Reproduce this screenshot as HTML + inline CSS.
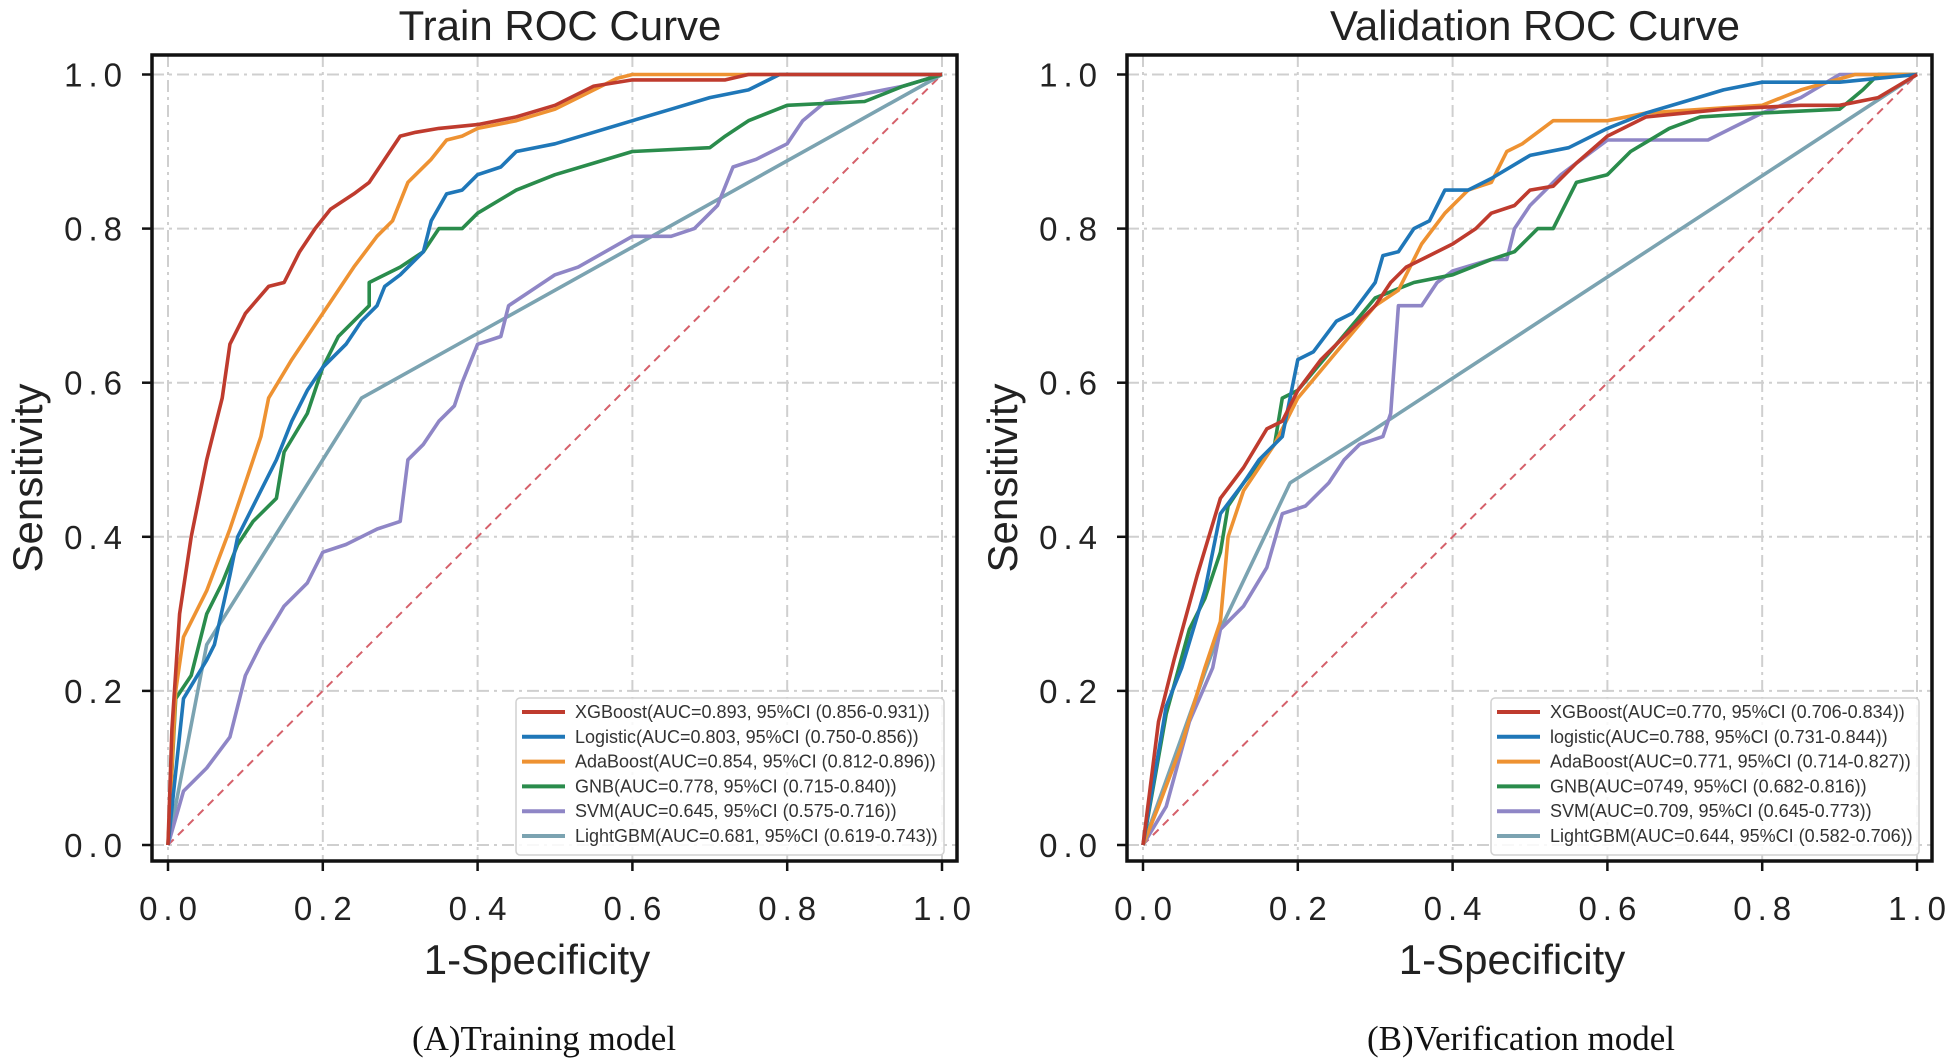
<!DOCTYPE html>
<html><head><meta charset="utf-8"><style>
html,body{margin:0;padding:0;background:#fff;}
svg{display:block;font-family:"Liberation Sans",sans-serif;}
</style></head><body>
<svg id="chart" width="1948" height="1062" viewBox="0 0 1948 1062" xmlns="http://www.w3.org/2000/svg"></svg>
<script>
const tickLabels = ["0.0","0.2","0.4","0.6","0.8","1.0"];
const tickValues = [0,0.2,0.4,0.6,0.8,1.0];
const modelNames = ["XGBoost","Logistic","AdaBoost","GNB","SVM","LightGBM"];
const trainLegend = ["XGBoost(AUC=0.893, 95%CI (0.856-0.931))","Logistic(AUC=0.803, 95%CI (0.750-0.856))","AdaBoost(AUC=0.854, 95%CI (0.812-0.896))","GNB(AUC=0.778, 95%CI (0.715-0.840))","SVM(AUC=0.645, 95%CI (0.575-0.716))","LightGBM(AUC=0.681, 95%CI (0.619-0.743))"];
const validLegend = ["XGBoost(AUC=0.770, 95%CI (0.706-0.834))","logistic(AUC=0.788, 95%CI (0.731-0.844))","AdaBoost(AUC=0.771, 95%CI (0.714-0.827))","GNB(AUC=0749, 95%CI (0.682-0.816))","SVM(AUC=0.709, 95%CI (0.645-0.773))","LightGBM(AUC=0.644, 95%CI (0.582-0.706))"];

const trainXGB = [[0,0],[0.005,0.15],[0.015,0.3],[0.03,0.4],[0.05,0.5],[0.07,0.58],[0.08,0.65],[0.1,0.69],[0.13,0.725],[0.15,0.73],[0.17,0.77],[0.19,0.8],[0.21,0.825],[0.24,0.845],[0.26,0.86],[0.28,0.89],[0.3,0.92],[0.32,0.925],[0.35,0.93],[0.4,0.935],[0.45,0.945],[0.5,0.96],[0.55,0.985],[0.6,0.993],[0.72,0.993],[0.75,1],[1,1]];
const trainLogistic = [[0,0],[0.02,0.19],[0.05,0.24],[0.06,0.26],[0.08,0.35],[0.09,0.4],[0.12,0.46],[0.14,0.5],[0.16,0.55],[0.18,0.59],[0.2,0.62],[0.23,0.65],[0.25,0.68],[0.27,0.7],[0.28,0.725],[0.3,0.74],[0.33,0.77],[0.34,0.81],[0.36,0.845],[0.38,0.85],[0.4,0.87],[0.43,0.88],[0.45,0.9],[0.5,0.91],[0.55,0.925],[0.6,0.94],[0.65,0.955],[0.7,0.97],[0.75,0.98],[0.79,1],[1,1]];
const trainAda = [[0,0],[0.01,0.2],[0.02,0.27],[0.05,0.33],[0.08,0.41],[0.1,0.47],[0.12,0.53],[0.13,0.58],[0.16,0.63],[0.2,0.69],[0.24,0.75],[0.27,0.79],[0.29,0.81],[0.31,0.86],[0.34,0.89],[0.36,0.915],[0.38,0.92],[0.4,0.93],[0.45,0.94],[0.5,0.955],[0.54,0.975],[0.58,0.995],[0.6,1],[1,1]];
const trainGNB = [[0,0],[0.01,0.19],[0.03,0.22],[0.05,0.3],[0.07,0.34],[0.09,0.39],[0.11,0.42],[0.14,0.45],[0.15,0.51],[0.18,0.56],[0.2,0.62],[0.22,0.66],[0.26,0.7],[0.26,0.73],[0.3,0.75],[0.33,0.77],[0.35,0.8],[0.38,0.8],[0.4,0.82],[0.45,0.85],[0.5,0.87],[0.55,0.885],[0.6,0.9],[0.7,0.905],[0.72,0.92],[0.75,0.94],[0.8,0.96],[0.9,0.965],[0.95,0.985],[1,1]];
const trainSVM = [[0,0],[0.02,0.07],[0.05,0.1],[0.08,0.14],[0.1,0.22],[0.12,0.26],[0.15,0.31],[0.18,0.34],[0.2,0.38],[0.23,0.39],[0.25,0.4],[0.27,0.41],[0.3,0.42],[0.31,0.5],[0.33,0.52],[0.35,0.55],[0.37,0.57],[0.38,0.6],[0.4,0.65],[0.43,0.66],[0.44,0.7],[0.47,0.72],[0.5,0.74],[0.53,0.75],[0.6,0.79],[0.65,0.79],[0.68,0.8],[0.7,0.82],[0.71,0.83],[0.73,0.88],[0.76,0.89],[0.8,0.91],[0.82,0.94],[0.85,0.965],[0.9,0.975],[0.95,0.985],[1,1]];
const trainLGBM = [[0,0],[0.05,0.26],[0.25,0.58],[1,1]];

const validXGB = [[0,0],[0.02,0.16],[0.04,0.24],[0.07,0.35],[0.1,0.45],[0.13,0.49],[0.16,0.54],[0.18,0.55],[0.2,0.59],[0.23,0.63],[0.27,0.67],[0.3,0.7],[0.32,0.73],[0.34,0.75],[0.37,0.765],[0.4,0.78],[0.43,0.8],[0.45,0.82],[0.48,0.83],[0.5,0.85],[0.53,0.855],[0.56,0.885],[0.6,0.92],[0.65,0.945],[0.75,0.955],[0.85,0.96],[0.9,0.96],[0.95,0.97],[1,1]];
const validLogistic = [[0,0],[0.03,0.18],[0.05,0.23],[0.08,0.33],[0.1,0.43],[0.13,0.47],[0.15,0.5],[0.18,0.53],[0.2,0.63],[0.22,0.64],[0.25,0.68],[0.27,0.69],[0.3,0.73],[0.31,0.765],[0.33,0.77],[0.35,0.8],[0.37,0.81],[0.39,0.85],[0.42,0.85],[0.45,0.865],[0.5,0.895],[0.55,0.905],[0.6,0.93],[0.65,0.95],[0.7,0.965],[0.75,0.98],[0.8,0.99],[0.9,0.99],[1,1]];
const validAda = [[0,0],[0.02,0.05],[0.05,0.13],[0.08,0.23],[0.1,0.29],[0.11,0.4],[0.13,0.46],[0.17,0.52],[0.2,0.58],[0.25,0.64],[0.3,0.7],[0.33,0.72],[0.36,0.78],[0.39,0.82],[0.42,0.85],[0.45,0.86],[0.47,0.9],[0.49,0.91],[0.53,0.94],[0.6,0.94],[0.65,0.95],[0.8,0.96],[0.85,0.98],[0.92,1],[1,1]];
const validGNB = [[0,0],[0.03,0.17],[0.06,0.28],[0.08,0.32],[0.1,0.38],[0.11,0.44],[0.13,0.47],[0.17,0.52],[0.18,0.58],[0.2,0.59],[0.25,0.65],[0.3,0.71],[0.35,0.73],[0.4,0.74],[0.45,0.76],[0.48,0.77],[0.51,0.8],[0.53,0.8],[0.56,0.86],[0.6,0.87],[0.63,0.9],[0.68,0.93],[0.72,0.945],[0.8,0.95],[0.9,0.955],[0.93,0.98],[0.95,1],[1,1]];
const validSVM = [[0,0],[0.03,0.05],[0.06,0.16],[0.09,0.23],[0.1,0.28],[0.13,0.31],[0.16,0.36],[0.18,0.43],[0.21,0.44],[0.24,0.47],[0.26,0.5],[0.28,0.52],[0.31,0.53],[0.32,0.56],[0.33,0.7],[0.36,0.7],[0.38,0.73],[0.4,0.745],[0.45,0.76],[0.47,0.76],[0.48,0.8],[0.5,0.83],[0.54,0.87],[0.58,0.9],[0.6,0.915],[0.73,0.915],[0.76,0.93],[0.8,0.95],[0.85,0.97],[0.9,1],[1,1]];
const validLGBM = [[0,0],[0.1,0.28],[0.19,0.47],[0.3,0.54],[1,1]];

const colors = ["#bf3b2e","#1f77b8","#ee9232","#2a8c4c","#8f86c6","#7ba3b1"];
const NS = "http://www.w3.org/2000/svg";
const svg = document.getElementById("chart");
function mk(tag, attrs, parent){const e=document.createElementNS(NS,tag);for(const k in attrs)e.setAttribute(k,attrs[k]);(parent||svg).appendChild(e);return e;}

function drawPanel(key, ox, title, caption, series, legend){
  const g = mk("g",{});
  
  
  const x0=ox+168, x1=ox+942, y0=845, y1=74.5;
  const sx=v=>x0+v*(x1-x0), sy=v=>y0-v*(y0-y1);
  const bl=ox+152, br=ox+957, bt=55, bb=861;
  tickValues.forEach(v=>{
    const gx=mk("line",{x1:sx(v),x2:sx(v),y1:bt,y2:bb,stroke:"#cfcfcf","stroke-width":2,"stroke-dasharray":"12,5,3,5"},g);
    
    
    const gy=mk("line",{x1:bl,x2:br,y1:sy(v),y2:sy(v),stroke:"#cfcfcf","stroke-width":2,"stroke-dasharray":"12,5,3,5"},g);
    
    
  });
  const d=mk("line",{x1:sx(0),y1:sy(0),x2:sx(1),y2:sy(1),stroke:"#d5606a","stroke-width":2,"stroke-dasharray":"8,6"},g);
  
  
  const order=[5,4,3,2,1,0];
  order.forEach(i=>{
    const pts=series[i].map(p=>sx(p[0]).toFixed(1)+","+sy(p[1]).toFixed(1)).join(" ");
    const pl=mk("polyline",{points:pts,fill:"none",stroke:colors[i],"stroke-width":3.6,"stroke-linejoin":"round"},g);
    
    
  });
  const fr=mk("rect",{x:bl,y:bt,width:br-bl,height:bb-bt,fill:"none",stroke:"#111","stroke-width":3.5},g);
  
  
  tickValues.forEach((v,i)=>{
    mk("line",{x1:sx(v),x2:sx(v),y1:bb,y2:bb+10,stroke:"#111","stroke-width":2.5},g);
    mk("line",{x1:bl-10,x2:bl,y1:sy(v),y2:sy(v),stroke:"#111","stroke-width":2.5},g);
    const tx=mk("text",{x:sx(v)+3,y:920,"text-anchor":"middle","font-size":33,"letter-spacing":"6",fill:"#222"},g);
    tx.textContent=tickLabels[i];
    
    
    const ty=mk("text",{x:ox+128,y:sy(v)+12,"text-anchor":"end","font-size":33,"letter-spacing":"6",fill:"#222"},g);
    ty.textContent=tickLabels[i];
    
    
  });
  const t=mk("text",{x:ox+560,y:40,"text-anchor":"middle","font-size":42,fill:"#222"},g);
  t.textContent=title;
  
  
  const xl=mk("text",{x:ox+537,y:974,"text-anchor":"middle","font-size":42,fill:"#222"},g);
  xl.textContent="1-Specificity";
  
  
  const yl=mk("text",{x:0,y:0,"text-anchor":"middle","font-size":42,fill:"#222",transform:"translate("+(ox+42)+",478) rotate(-90)"},g);
  yl.textContent="Sensitivity";
  
  
  const cp=mk("text",{x:ox+(key==="train"?544:546),y:1050,"text-anchor":"middle","font-size":35,fill:"#111","font-family":"Liberation Serif, serif"},g);
  cp.textContent=caption;
  
  
  const lg=mk("g",{},g);
  
  
  mk("rect",{x:ox+516,y:698,width:428,height:157,rx:4,fill:"#fff","fill-opacity":0.85,stroke:"#d0d0d0","stroke-width":1.5},lg);
  legend.forEach((txt,i)=>{
    const yy=712+i*24.8;
    const e=mk("g",{},lg);
    
    
    mk("line",{x1:ox+522,x2:ox+565,y1:yy,y2:yy,stroke:colors[i],"stroke-width":4},e);
    const tt=mk("text",{x:ox+575,y:yy+6,"font-size":18,fill:"#333"},e);
    tt.textContent=txt;
  });
}
drawPanel("train",0,"Train ROC Curve","(A)Training model",[trainXGB,trainLogistic,trainAda,trainGNB,trainSVM,trainLGBM],trainLegend);
drawPanel("valid",975,"Validation ROC Curve","(B)Verification model",[validXGB,validLogistic,validAda,validGNB,validSVM,validLGBM],validLegend);
</script>
</body></html>
